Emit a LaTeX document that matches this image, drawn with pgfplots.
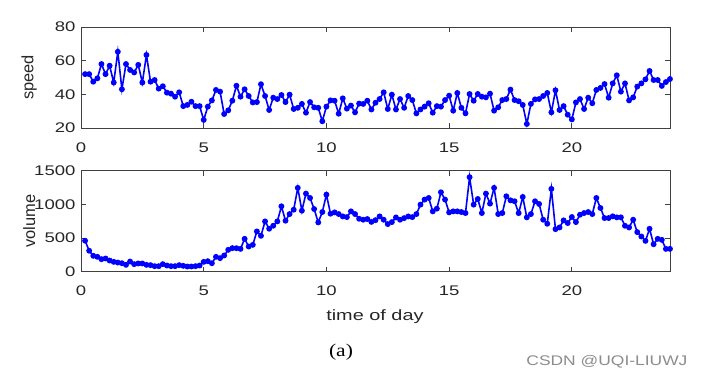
\documentclass[border=0pt]{standalone}
\usepackage{pgfplots}
\usepackage{pgfplotstable}
\pgfplotsset{compat=1.18}
\usepackage{fontspec}
\setmainfont{Liberation Sans}[FakeStretch=1.33]
\newfontfamily\seriffont{Liberation Serif}[FakeStretch=1.2]
\newfontfamily\wmfont{Liberation Sans}[FakeStretch=1.25]
\newfontfamily\ylabfont{Liberation Sans}
\pgfplotstableread{
k speed volume
1 52 460
2 52 311
3 47.5 236
4 49.5 221
5 58 186
6 52 196
7 57 166
8 47 146
9 65.3 136
10 43 126
11 58 102
12 54.5 151
13 53 112
14 57.5 122
15 47 122
16 63.4 102
17 47.5 97
18 48.5 82
19 43.4 82
20 44.8 112
21 41 92
22 40.4 82
23 38.6 82
24 41.2 97
25 33 87
26 33.7 77
27 35.6 77
28 33 82
29 33 92
30 24.8 146
31 32.7 156
32 36.4 126
33 42.6 221
34 41.6 201
35 28.3 241
36 30.5 325
37 36.2 350
38 45.1 349
39 38.6 339
40 43 488
41 39 374
42 35.2 399
43 35.4 598
44 46 533
45 39 747
46 30.7 638
47 38 682
48 37.2 747
49 39.6 971
50 35.4 757
51 39.8 856
52 31.3 921
53 32 1245
54 34.3 906
55 29.1 1160
56 35.4 1095
57 32.3 931
58 32 732
59 24 886
60 32.7 1145
61 36.4 861
62 36.2 881
63 28.5 856
64 37.6 821
65 31.5 811
66 33.3 896
67 29.3 856
68 34.5 786
69 34.3 772
70 36.2 782
71 31 740
72 35 765
73 37.2 821
74 41.2 772
75 31.3 707
76 39.8 737
77 31 806
78 37.2 772
79 32 796
80 39 821
81 36.6 811
82 28.7 856
83 31 996
84 32.7 1071
85 34.7 1095
86 29.1 896
87 33 936
88 32.7 1180
89 36.6 1071
90 39.2 881
91 30.3 896
92 40.8 896
93 32 886
94 28.7 871
95 40.2 1404
96 36.2 996
97 40.2 1080
98 38.6 871
99 38.2 1160
100 40.4 1011
101 30.3 1245
102 32.3 856
103 36.6 871
104 37.2 1120
105 42.8 1060
106 36.6 1046
107 35.9 870
108 33.7 1110
109 22.4 807
110 34.3 856
111 37 1046
112 37.2 1006
113 39 772
114 40.8 712
115 29.3 1230
116 42.4 632
117 30.7 657
118 33 762
119 27.9 722
120 25.1 812
121 35.2 737
122 37.2 846
123 31.3 871
124 38 886
125 34.7 856
126 42.6 1095
127 43.8 946
128 46.1 797
129 38 797
130 46.5 822
131 51.3 807
132 41.6 807
133 46.5 682
134 36.4 657
135 38.2 772
136 44.6 588
137 46.5 523
138 48.9 458
139 53.9 637
140 48.5 408
141 48.5 488
142 45 473
143 47.3 339
144 49.1 339
}\datatable
\definecolor{axgray}{RGB}{64,64,64}
\definecolor{txtgray}{RGB}{38,38,38}
\pgfplotsset{
  matlab/.style={
    scale only axis, width=589bp, height=101bp,
    xmin=0, xmax=24, xtick={0,5,10,15,20},
    tick align=inside, major tick length=5bp,
    axis line style={axgray, line width=0.9bp},
    every tick/.style={axgray, line width=0.9bp},
    tick label style={font=\fontsize{14}{16}\selectfont, text=txtgray},
    label style={font=\fontsize{15}{18}\selectfont, text=txtgray},
    /pgf/number format/assume math mode=true,
    /pgf/number format/1000 sep={},
    xticklabel style={yshift=-11bp},
    yticklabel style={xshift=-2bp},
    scaled y ticks=false,
    ylabel style={font=\ylabfont\fontsize{16.5}{18}\selectfont, at={(axis description cs:-0.088,0.5)}, anchor=center},
  },
  series/.style={blue, line width=1.6bp, mark=*, mark size=2.1bp, mark options={solid, fill=blue}},
}
\begin{document}
\begin{tikzpicture}
\useasboundingbox (0,0) rectangle (702bp,387bp);
\begin{axis}[matlab, at={(81bp,259bp)}, anchor=south west,
  ymin=20, ymax=80, ytick={20,40,60,80}, ylabel={speed}]
\addplot[series] table[x expr=\thisrow{k}/6, y=speed] {\datatable};
\end{axis}
\begin{axis}[matlab, at={(81bp,115.3bp)}, anchor=south west,
  ymin=0, ymax=1500, ytick={0,500,1000,1500}, ylabel={volume},
  xlabel={time of day},
  xlabel style={at={(axis description cs:0.499,-0.44)}, anchor=center}]
\addplot[series] table[x expr=\thisrow{k}/6, y=volume] {\datatable};
\end{axis}
\node[font=\seriffont\fontsize{18}{20}\selectfont] at (341bp,35bp) {(a)};
\node[font=\wmfont\fontsize{14}{16}\selectfont, text=black!45, anchor=east] at (691bp,25bp) {CSDN @UQI-LIUWJ};
\end{tikzpicture}
\end{document}
